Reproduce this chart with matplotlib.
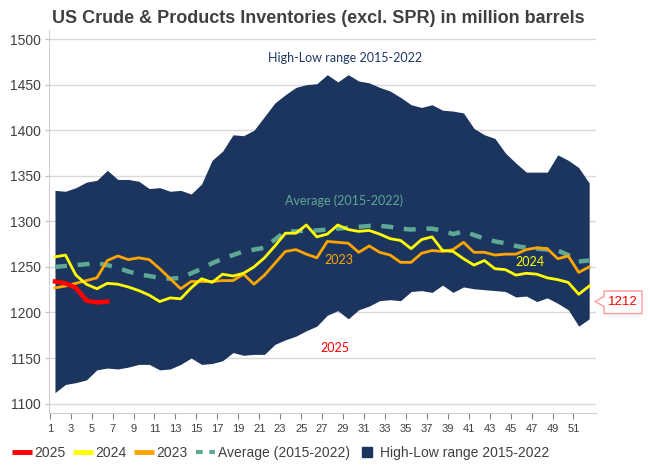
import matplotlib
matplotlib.use('Agg')
import matplotlib.pyplot as plt
import numpy as np
from matplotlib.lines import Line2D
from matplotlib.patches import Polygon
from matplotlib.transforms import IdentityTransform

plt.rcParams['font.family'] = ['Liberation Sans', 'DejaVu Sans']

weeks = list(range(1, 53))

high_2015_2022 = [1334, 1333, 1337, 1343, 1345, 1356, 1346, 1346, 1344, 1336,
                  1337, 1333, 1334, 1330, 1341, 1367, 1377, 1395, 1394, 1400,
                  1415, 1430, 1439, 1447, 1450, 1451, 1461, 1453, 1461, 1454,
                  1452, 1447, 1443, 1436, 1428, 1425, 1428, 1422, 1421, 1419,
                  1402, 1395, 1391, 1375, 1364, 1354, 1354, 1354, 1373, 1367,
                  1359, 1342]
low_2015_2022 = [1112, 1121, 1123, 1126, 1137, 1139, 1138, 1140, 1143, 1143,
                 1137, 1138, 1143, 1150, 1143, 1144, 1147, 1156, 1153, 1154,
                 1154, 1165, 1170, 1174, 1180, 1185, 1197, 1202, 1193, 1203,
                 1207, 1213, 1214, 1213, 1223, 1224, 1222, 1230, 1222, 1228,
                 1226, 1225, 1224, 1223, 1217, 1218, 1212, 1216, 1210, 1203,
                 1185, 1193]
avg_2015_2022 = [1250, 1251, 1252, 1253, 1254, 1252, 1249, 1245, 1242, 1240,
                 1238, 1237, 1238, 1243, 1248, 1254, 1259, 1263, 1267, 1269,
                 1271, 1280, 1289, 1289, 1290, 1290, 1291, 1292, 1293, 1294,
                 1295, 1295, 1294, 1292, 1291, 1292, 1292, 1290, 1286, 1289,
                 1285, 1281, 1278, 1276, 1273, 1271, 1270, 1269, 1268, 1263,
                 1256, 1257]
y2024 = [1261, 1263, 1241, 1231, 1226, 1232, 1231, 1228, 1224, 1219,
         1212, 1216, 1215, 1227, 1237, 1233, 1242, 1240, 1243, 1250,
         1260, 1273, 1287, 1287, 1296, 1283, 1286, 1296, 1291, 1289,
         1290, 1286, 1281, 1279, 1270, 1280, 1283, 1268, 1267, 1259,
         1252, 1257, 1248, 1247, 1241, 1243, 1242, 1238, 1236, 1233,
         1220, 1229]
y2023 = [1227, 1229, 1232, 1235, 1238, 1257, 1262, 1258, 1260, 1258,
         1248, 1237, 1226, 1234, 1234, 1234, 1235, 1235, 1242, 1231,
         1241, 1254, 1267, 1269, 1264, 1260, 1278, 1277, 1276, 1266,
         1273, 1266, 1263, 1255, 1255, 1265, 1268, 1267, 1269, 1277,
         1266, 1266, 1263, 1264, 1264, 1269, 1271, 1270, 1259, 1262,
         1244, 1250]
y2025 = [1234, 1232, 1227, 1213, 1211, 1212]

c_band = '#1c355e'
c_avg = '#5ea896'
c_2023 = '#ffa500'
c_2024 = '#ffff00'
c_2025 = '#ff0000'
c_text = '#404040'

fig = plt.figure(figsize=(6.5, 4.75), dpi=100)
ax = fig.add_axes([49 / 650, 62.3 / 475, 547 / 650, 382.7 / 475])

ax.fill_between(weeks, low_2015_2022, high_2015_2022, color=c_band, lw=0, zorder=2)
ax.plot(weeks, avg_2015_2022, color=c_avg, lw=3.2, dashes=(2.7, 2.4), zorder=3)
ax.plot(weeks, y2023, color=c_2023, lw=2.0, zorder=4)
ax.plot(weeks[:len(y2024)], y2024, color=c_2024, lw=2.0, zorder=5)
ax.plot(weeks[:len(y2025)], y2025, color=c_2025, lw=3.2, zorder=6)

ax.set_xlim(0.43, 52.65)
ax.set_ylim(1090, 1510)
ax.set_yticks(range(1100, 1501, 50))
ax.yaxis.grid(True, color='#d9d9d9', lw=1, zorder=0)
ax.set_axisbelow(True)
ax.set_xticks([w - 0.5 for w in weeks[::2]])
ax.set_xticklabels([str(w) for w in weeks[::2]])
ax.tick_params(axis='x', direction='out', length=4, color='#808080',
               labelsize=8, labelcolor=c_text, pad=4)
ax.tick_params(axis='y', direction='out', length=3, color='#bfbfbf',
               labelsize=10, labelcolor=c_text, pad=3)
for s in ['top', 'right']:
    ax.spines[s].set_visible(False)
ax.spines['left'].set_color('#d0d0d0')
ax.spines['bottom'].set_color('#d0d0d0')

# in-chart labels
lbl_font = ['Lato', 'DejaVu Sans']
ax.text(28.7, 1479, 'High-Low range 2015-2022', color='#1f3864', fontsize=9,
        family=lbl_font, ha='center', va='center', zorder=7)
ax.text(28.6, 1323, 'Average (2015-2022)', color=c_avg, fontsize=9,
        family=lbl_font, ha='center', va='center', zorder=7)
ax.text(28.1, 1258, '2023', color=c_2023, fontsize=9,
        family=lbl_font, ha='center', va='center', zorder=7)
ax.text(46.3, 1255, '2024', color=c_2024, fontsize=9,
        family=lbl_font, ha='center', va='center', zorder=7)
ax.text(27.7, 1161, '2025', color=c_2025, fontsize=9,
        family=lbl_font, ha='center', va='center', zorder=7)

# callout with last 2025 value
tip = ax.get_yaxis_transform().transform((1.0, y2025[-1]))
tx, ty = tip[0] - 1, tip[1]
pts = [(0, 0), (9, 5), (9, 10.5), (47, 10.5), (47, -12), (9, -12), (9, -5)]
callout = Polygon([(tx + dx, ty + dy) for dx, dy in pts], closed=True,
                  transform=IdentityTransform(), facecolor='white',
                  edgecolor='#ff9a9a', lw=1, clip_on=False, zorder=8)
fig.add_artist(callout)
fig.text((tx + 28) / 650, (ty - 0.5) / 475, str(y2025[-1]), color=c_2025,
         fontsize=9.5, ha='center', va='center', zorder=9)

fig.text(0.49, 0.962, 'US Crude & Products Inventories (excl. SPR) in million barrels',
         fontsize=13, fontweight='bold', color=c_text, ha='center', va='center')

handles = [Line2D([], [], color=c_2025, lw=3.5, solid_capstyle='butt'),
           Line2D([], [], color=c_2024, lw=3.5, solid_capstyle='butt'),
           Line2D([], [], color=c_2023, lw=3.5, solid_capstyle='butt'),
           Line2D([], [], color=c_avg, lw=3.0, dashes=(1.6, 1.6)),
           Line2D([], [], color=c_band, marker='s', markersize=7, lw=0)]
labels = ['2025', '2024', '2023', 'Average (2015-2022)', 'High-Low range 2015-2022']
leg = fig.legend(handles, labels, loc='center', bbox_to_anchor=(280.5 / 650, 1 - 453 / 475),
                 ncol=5, frameon=False, fontsize=10, handlelength=1.4,
                 handletextpad=0.2, columnspacing=0.55, labelcolor=c_text)

fig.savefig('out.png', dpi=100)
